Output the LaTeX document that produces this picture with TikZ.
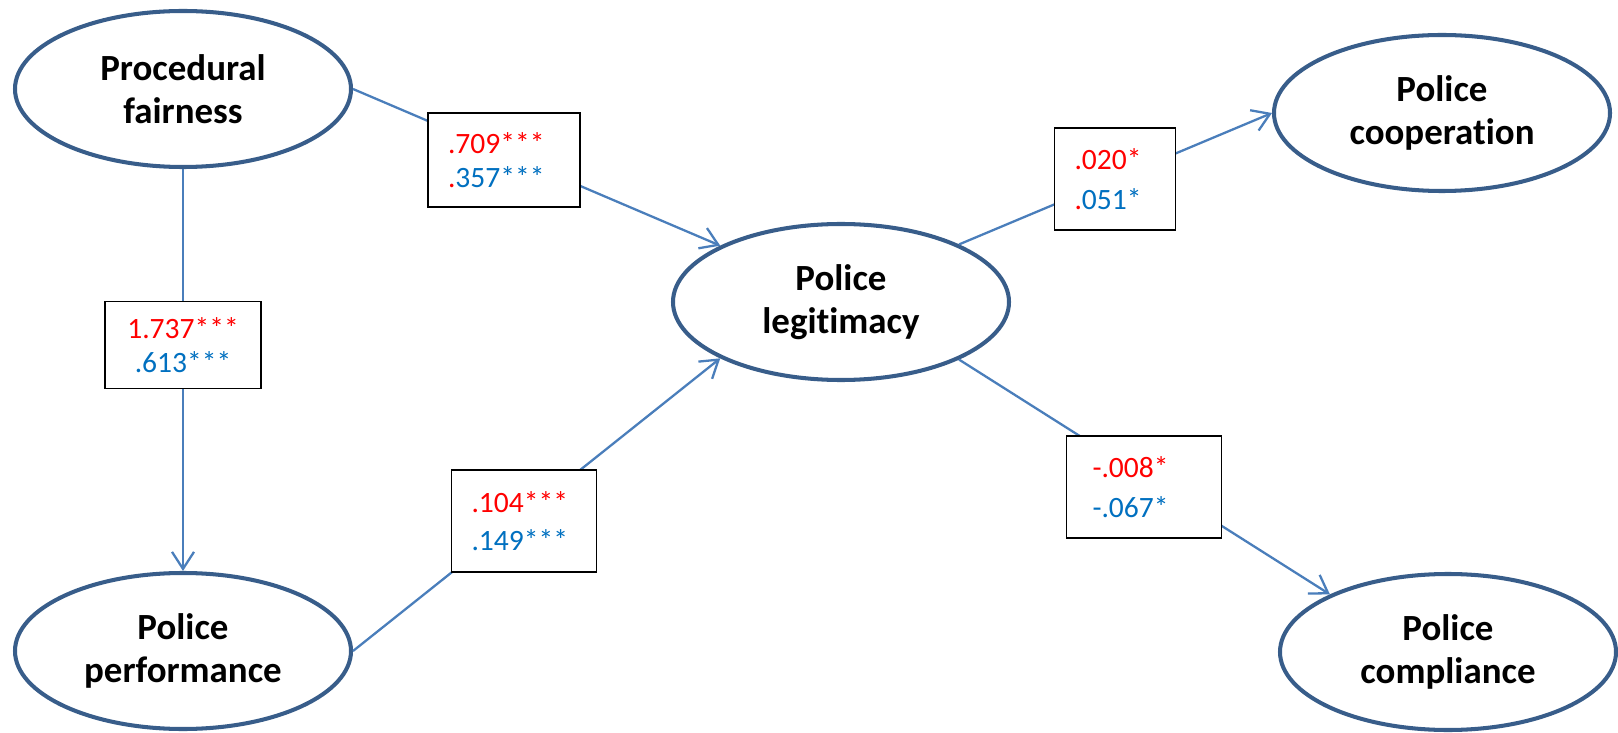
\documentclass[tikz,border=0pt]{standalone}
\usepackage{fontspec}
\setmainfont{Carlito}[Ligatures=NoCommon,Contextuals=NoAlternate]
\usepackage{tikz}
\usetikzlibrary{arrows.meta,shapes.geometric}
\definecolor{ellborder}{RGB}{56,93,138}
\definecolor{linkblue}{RGB}{74,126,187}
\definecolor{valblue}{RGB}{0,112,192}
\newcommand{\redval}[1]{\textcolor{red}{#1}}
\newcommand{\blueval}[1]{\textcolor{valblue}{#1}}

\begin{document}
\begin{tikzpicture}[x=0.2mm,y=-0.2mm,
  construct/.style={ellipse,draw=ellborder,line width=2.3pt,fill=white,minimum width=67.2mm,minimum height=31.2mm,inner sep=0pt,align=center,font=\fontsize{21}{24.4}\selectfont\bfseries},
  valbox/.style={rectangle,draw=black,line width=1.1pt,fill=white,align=left,inner ysep=0pt,inner xsep=4mm,font=\fontsize{16.8}{19.5}\selectfont},
  link/.style={draw=linkblue,line width=1.3pt,-{Straight Barb[length=3.4mm,width=4.4mm]}}]
\useasboundingbox (0,0) rectangle (1618,733);
\node[construct] (fair) at (183,89) {Procedural\\fairness};
\node[construct] (perf) at (183,651) {Police\\performance};
\node[construct] (legit) at (841,302) {Police\\legitimacy};
\node[construct] (coop) at (1442,113) {Police\\cooperation};
\node[construct] (compl) at (1448,652) {Police\\compliance};
% paths
\draw[link] (fair.south) -- (perf.north);
\draw[link] (fair.east) -- (legit.155);
\draw[link] (perf.east) -- (legit.205);
\draw[link] (legit.26) -- (coop.west);
\draw[link] (legit.334) -- (compl.154);
% coefficients
\node[valbox,text width=22.4mm,minimum height=18.8mm] (b1) at (504,160) {\redval{.709***}\\\redval{.}\blueval{357***}};
\node[valbox,align=center,inner xsep=0pt,minimum width=31.2mm,minimum height=17.4mm] (b2) at (183,345) {\redval{1.737***}\\\blueval{.613***}};
\node[valbox,text width=21mm,minimum height=20.4mm] (b3) at (524,521) {\redval{.104***}\\[2.5pt]\blueval{.149***}};
\node[valbox,text width=16.2mm,minimum height=20.4mm] (b4) at (1115,179) {\redval{.020*}\\[3pt]\redval{.}\blueval{051*}};
\node[valbox,inner xsep=5.2mm,text width=20.6mm,minimum height=20.4mm] (b5) at (1144,487) {\redval{-.008*}\\[3pt]\blueval{-.067*}};
\end{tikzpicture}
\end{document}
